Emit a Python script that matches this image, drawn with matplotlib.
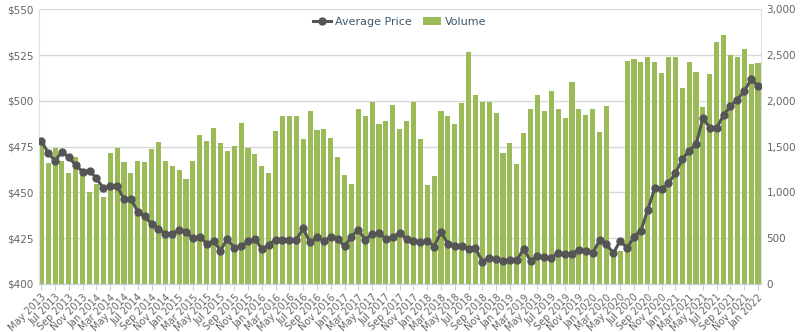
import matplotlib
matplotlib.use("Agg")
import matplotlib.pyplot as plt
from matplotlib.ticker import FuncFormatter, MultipleLocator

# monthly, May 2013 .. Jan 2022
months = ["Jan", "Feb", "Mar", "Apr", "May", "Jun",
          "Jul", "Aug", "Sep", "Oct", "Nov", "Dec"]
start_year, start_month = 2013, 4  # May (0-based month)

volume = [
    1520, 1318, 1489, 1347, 1208, 1390, 1190, 1001, 1092, 953,
    1427, 1489, 1329, 1208, 1347, 1329, 1471, 1554, 1343, 1292,
    1241, 1143, 1343, 1631, 1565, 1704, 1543, 1456, 1510, 1758,
    1482, 1416, 1289, 1208, 1671, 1838, 1838, 1838, 1583, 1893,
    1682, 1696, 1598, 1390, 1190, 1088, 1907, 1834, 1984, 1747,
    1783, 1951, 1689, 1780, 1991, 1580, 1081, 1183, 1893, 1838,
    1747, 1980, 2530, 2067, 1984, 1984, 1864, 1427, 1543, 1310,
    1650, 1911, 2060, 1889, 2108, 1907, 1816, 2202, 1907, 1842,
    1907, 1656, 1944, 330, 360, 2435, 2453, 2420, 2475, 2420,
    2309, 2475, 2475, 2144, 2420, 2315, 1936, 2290, 2639, 2724,
    2500, 2482, 2564, 2402, 2418,
]

avg_price = [
    478.2, 471.6, 467.1, 472.2, 469.1, 464.9, 461.3, 461.8, 457.7, 452.2,
    453.3, 453.5, 446.2, 446.5, 439.4, 437.1, 432.6, 430.0, 427.5, 427.5,
    429.5, 428.3, 424.9, 425.6, 422.0, 423.5, 418.2, 424.6, 419.5, 420.5,
    423.3, 424.6, 418.9, 421.5, 424.2, 424.0, 424.0, 424.0, 430.3, 422.6,
    425.5, 423.5, 425.8, 424.4, 420.5, 425.8, 429.5, 424.2, 427.0, 427.8,
    424.5, 425.5, 428.0, 424.4, 423.6, 422.7, 423.6, 420.4, 428.5, 421.8,
    420.7, 420.7, 419.1, 419.5, 412.2, 414.0, 413.5, 412.5, 413.1, 413.1,
    419.0, 412.5, 415.1, 414.5, 414.0, 416.9, 416.1, 416.3, 418.7, 417.8,
    416.7, 423.8, 421.7, 416.7, 423.6, 419.5, 425.8, 429.0, 440.5, 452.2,
    451.6, 454.9, 460.4, 468.0, 472.7, 476.2, 490.4, 485.3, 485.3, 492.2,
    497.1, 500.7, 505.3, 511.7, 508.1,
]

labels = []
for k in range(len(volume)):
    m = start_month + k
    labels.append(f"{months[m % 12]} {start_year + m // 12}")

x = list(range(len(volume)))

bar_color = "#9bbb59"
line_color = "#555555"
text_color = "#666666"
grid_color = "#d8d8d8"

fig = plt.figure(figsize=(8, 3.32), dpi=100)
ax_vol = fig.add_axes([0.049, 0.145, 0.902, 0.827])
ax_price = ax_vol.twinx()

bars = ax_vol.bar(x, volume, width=0.74, color=bar_color, zorder=2,
                  label="Volume")
ax_vol.set_ylim(0, 3000)
ax_vol.yaxis.set_major_locator(MultipleLocator(500))
ax_vol.yaxis.set_minor_locator(MultipleLocator(100))
ax_vol.yaxis.set_major_formatter(FuncFormatter(lambda v, p: f"{int(v):,}"))
ax_vol.yaxis.tick_right()
ax_vol.grid(axis="y", color=grid_color, linewidth=1, zorder=0)
ax_vol.set_axisbelow(True)

line, = ax_price.plot(x, avg_price, color=line_color, linewidth=2.2,
                      marker="o", markersize=5, zorder=3,
                      label="Average Price")
ax_price.set_ylim(400, 550)
ax_price.yaxis.set_major_locator(MultipleLocator(25))
ax_price.yaxis.set_minor_locator(MultipleLocator(5))
ax_price.yaxis.set_major_formatter(FuncFormatter(lambda v, p: f"${int(v)}"))
ax_price.yaxis.tick_left()

ax_vol.set_xlim(-0.3, len(volume) - 0.6)
ax_vol.set_xticks(x[::2])
ax_vol.set_xticklabels(labels[::2], rotation=45, ha="right",
                       rotation_mode="anchor", fontsize=7, color=text_color)

for a in (ax_vol, ax_price):
    for s in a.spines.values():
        s.set_visible(False)
    a.tick_params(axis="y", which="major", length=0, labelsize=7.5,
                  labelcolor=text_color, pad=4)
    a.tick_params(axis="y", which="minor", length=0)

ax_vol.tick_params(axis="x", length=4, color="#c0d0e0", pad=2)
ax_vol.spines["bottom"].set_visible(True)
ax_vol.spines["bottom"].set_color("#c0d0e0")
ax_vol.spines["left"].set_visible(True)
ax_vol.spines["left"].set_color("#e0e0e0")
ax_vol.spines["right"].set_visible(True)
ax_vol.spines["right"].set_color("#e0e0e0")

leg = ax_price.legend(handles=[line, bars], loc="upper center",
                      bbox_to_anchor=(0.5, 1.0), ncol=2, frameon=False,
                      fontsize=8, handlelength=1.6, columnspacing=1.0,
                      handletextpad=0.4, borderaxespad=0.3)
for t in leg.get_texts():
    t.set_color("#3e576f")

fig.savefig("out.png", dpi=100)
